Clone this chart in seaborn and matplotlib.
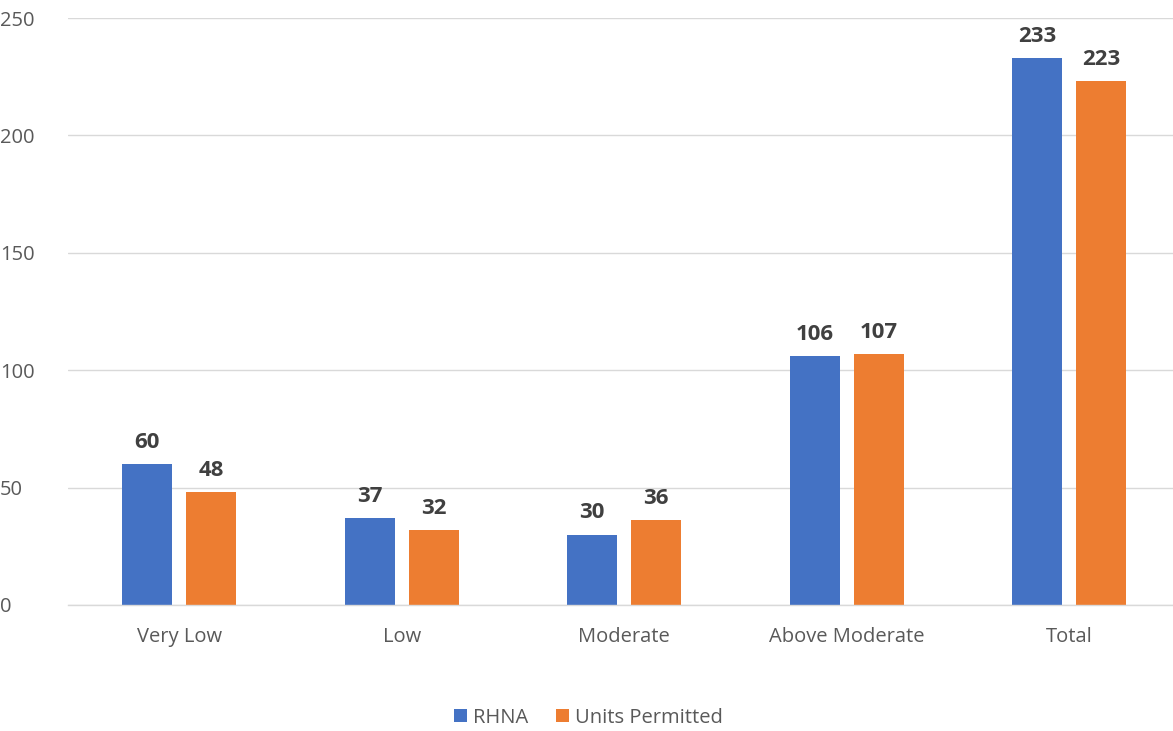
import matplotlib
matplotlib.use("Agg")
import matplotlib.pyplot as plt
import seaborn as sns
import pandas as pd

categories = ["Very Low", "Low", "Moderate", "Above Moderate", "Total"]
rhna = [60, 37, 30, 106, 233]
units_permitted = [48, 32, 36, 107, 223]
series_names = ["RHNA", "Units Permitted"]
y_ticks = [0, 50, 100, 150, 200, 250]

df = pd.DataFrame({
    "category": categories * 2,
    "series": [series_names[0]] * len(categories) + [series_names[1]] * len(categories),
    "value": rhna + units_permitted,
})

sns.set_theme(style="white")
plt.rcParams["font.family"] = ["Open Sans", "DejaVu Sans"]

fig = plt.figure(figsize=(11.73, 7.31), dpi=100)
ax = fig.add_axes([68 / 1173, 126 / 731, 1 - 68 / 1173, (605 - 18) / 731])

palette = {"RHNA": "#4472C4", "Units Permitted": "#ED7D31"}
sns.barplot(data=df, x="category", y="value", hue="series", order=categories,
            hue_order=series_names, palette=palette, width=0.575, gap=0.22,
            saturation=1, linewidth=0, ax=ax, legend=True)

for container in ax.containers:
    ax.bar_label(container, fmt="%d", padding=8, fontsize=16, fontweight="bold",
                 color="#404040")

ax.set_ylim(0, 250)
ax.set_xlim(-0.5, 4.467)
ax.set_yticks(y_ticks)
ax.yaxis.grid(True, color="#d9d9d9", linewidth=1)
ax.set_axisbelow(True)
for side in ["top", "right", "left"]:
    ax.spines[side].set_visible(False)
ax.spines["bottom"].set_color("#d9d9d9")
ax.spines["bottom"].set_linewidth(1)
ax.set_xlabel("")
ax.set_ylabel("")
ax.tick_params(axis="both", length=0, labelsize=14.5, labelcolor="#595959")
ax.tick_params(axis="x", pad=16)
ax.tick_params(axis="y", pad=49)
for lbl in ax.get_yticklabels():
    lbl.set_horizontalalignment("left")

ax.legend(loc="center", bbox_to_anchor=(0.5 - 68 / 1173 / 2, -0.192),
          ncol=2, frameon=False, fontsize=14.5, handlelength=0.65, handleheight=0.65,
          handletextpad=0.3, columnspacing=1.4, labelcolor="#595959")

fig.savefig("out.png", dpi=100)
